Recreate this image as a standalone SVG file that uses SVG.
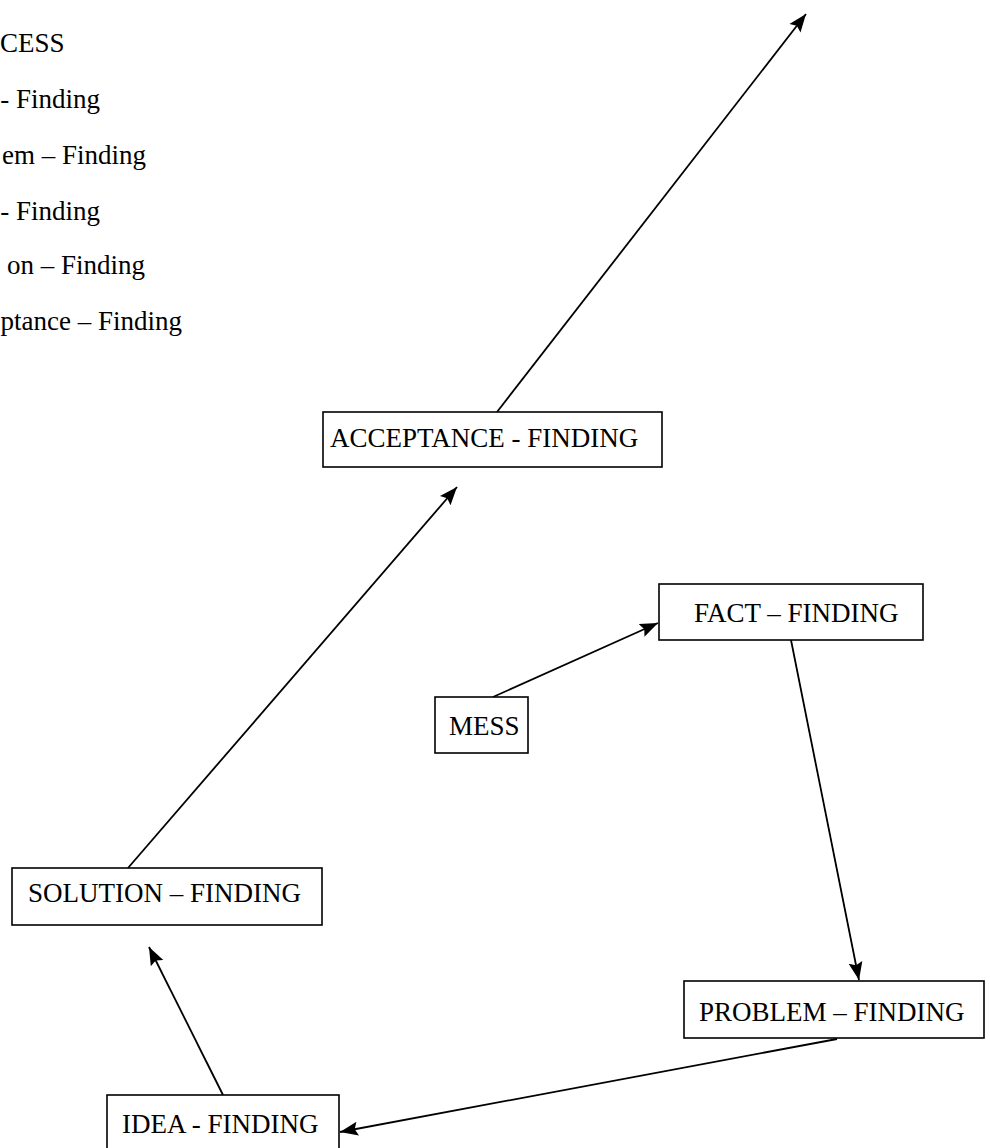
<svg xmlns="http://www.w3.org/2000/svg" width="990" height="1148" viewBox="0 0 990 1148">
<defs>
<style>
text{font-family:"Liberation Serif","Times New Roman",serif;font-size:27px;fill:#000}
.box{fill:#fff;stroke:#000;stroke-width:1.6}
.edge{stroke:#000;stroke-width:1.8;fill:none;marker-end:url(#ah)}
.l{text-anchor:end}
</style>
<marker id="ah" markerWidth="20" markerHeight="16" refX="18" refY="8" orient="auto" markerUnits="userSpaceOnUse">
<path d="M18,8 L0,1 L3,8 L0,15 Z" fill="#000"/>
</marker>
</defs>
<rect width="990" height="1148" fill="#fff"/>
<g id="legend">
<text x="0" y="52">CESS</text>
<text class="l" x="100" y="108">- Finding</text>
<text class="l" x="146" y="164">em – Finding</text>
<text class="l" x="100" y="220">- Finding</text>
<text class="l" x="145" y="274">on – Finding</text>
<text class="l" x="182" y="330">ptance – Finding</text>
</g>
<g id="connectors">
<line class="edge" x1="493" y1="697" x2="658" y2="623"/>
<line class="edge" x1="791" y1="640" x2="859" y2="980"/>
<line class="edge" x1="837" y1="1039" x2="340" y2="1132"/>
<line class="edge" x1="223" y1="1095" x2="149" y2="947"/>
<line class="edge" x1="128" y1="868" x2="457" y2="487"/>
<line class="edge" x1="497" y1="412" x2="806" y2="14"/>
</g>
<g id="acceptance">
<rect class="box" x="323" y="412" width="339" height="55"/>
<text x="330" y="447">ACCEPTANCE - FINDING</text>
</g>
<g id="fact">
<rect class="box" x="659" y="584" width="264" height="56"/>
<text x="694" y="622">FACT – FINDING</text>
</g>
<g id="mess">
<rect class="box" x="435" y="697" width="93" height="56"/>
<text x="449" y="735">MESS</text>
</g>
<g id="solution">
<rect class="box" x="12" y="868" width="310" height="57"/>
<text x="28" y="902">SOLUTION – FINDING</text>
</g>
<g id="problem">
<rect class="box" x="684" y="981" width="300" height="57"/>
<text x="699" y="1021">PROBLEM – FINDING</text>
</g>
<g id="idea">
<rect class="box" x="107" y="1095" width="232" height="70"/>
<text x="122" y="1133">IDEA - FINDING</text>
</g>
</svg>
